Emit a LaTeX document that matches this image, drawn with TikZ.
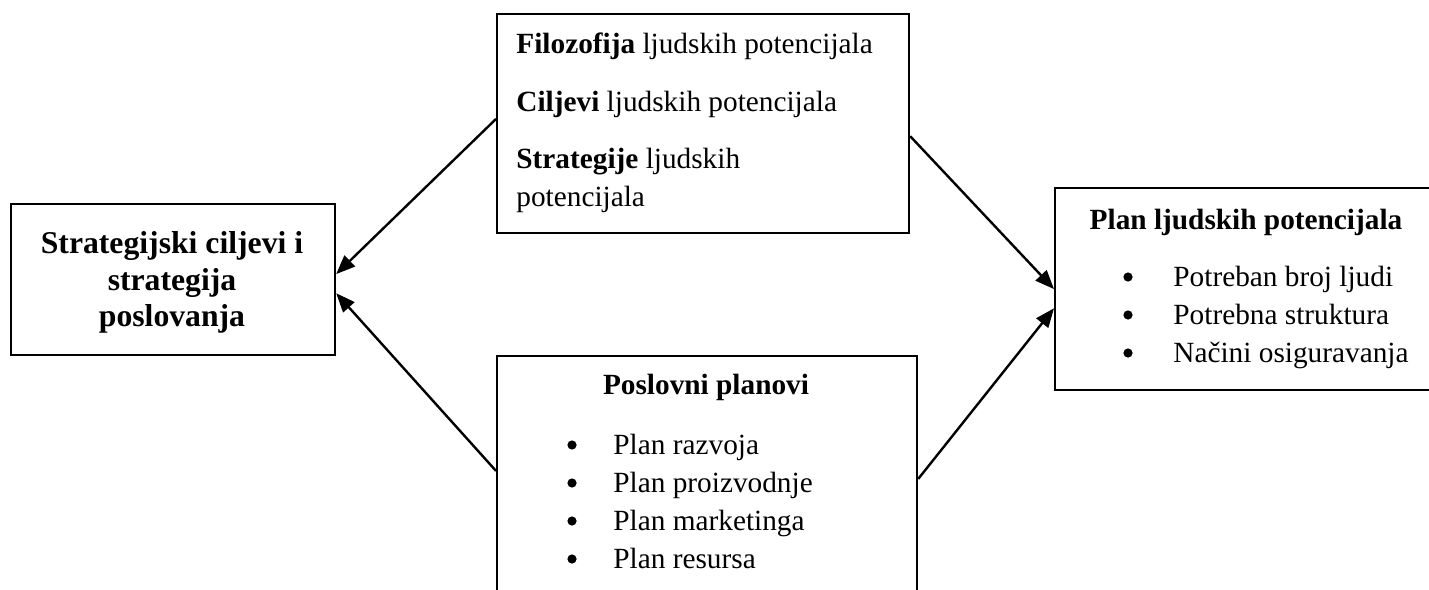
\documentclass[tikz,border=0pt]{standalone}
\usepackage{fontspec}
\setmainfont{Liberation Serif}
\usetikzlibrary{calc,arrows.meta}
\begin{document}
\begin{tikzpicture}[x=0.5pt,y=-0.5pt,
  box/.style={draw, line width=1.1pt, inner sep=0pt, anchor=north west},
  txt/.style={inner sep=0pt, anchor=base west, font=\fontsize{14.65}{19}\selectfont},
  ctxt/.style={txt, anchor=base},
  big/.style={inner sep=0pt, anchor=base, font=\fontsize{15.85}{19}\selectfont\bfseries},
  bul/.style={circle, fill, inner sep=0pt, minimum size=4.6pt},
  conn/.style={line width=1.2pt, -{Triangle[length=9.5pt,width=7.5pt]}}]
\useasboundingbox (0,0) rectangle (1429,589);
\clip (0,0) rectangle (1429,589);

% boxes
\node[box, minimum width=162pt, minimum height=75.5pt] (L) at (10,203) {};
\node[box, minimum width=206pt, minimum height=109.5pt] (T) at (496,13) {};
\node[box, minimum width=210pt, minimum height=142.5pt] (B) at (496,355) {};
\node[box, minimum width=203pt, minimum height=101pt] (R) at (1054,187) {};

% left box text
\node[big] (l1) at (172,253) {Strategijski ciljevi i};
\node[big] (l2) at (172,290) {strategija};
\node[big] (l3) at (172,326) {poslovanja};

% top box text
\node[txt] (t1) at (516,54) {\textbf{Filozofija} ljudskih potencijala};
\node[txt] (t2) at (516,111) {\textbf{Ciljevi} ljudskih potencijala};
\node[txt] (t3) at (516,168) {\textbf{Strategije} ljudskih};
\node[txt] (t4) at (516,206) {potencijala};

% bottom box text
\node[ctxt, font=\fontsize{14.65}{19}\selectfont\bfseries] (b0) at (706,394) {Poslovni planovi};
\node[bul] (bb1) at (572,445) {};
\node[txt] (b1) at (613,454) {Plan razvoja};
\node[bul] (bb2) at (572,483) {};
\node[txt] (b2) at (613,492) {Plan proizvodnje};
\node[bul] (bb3) at (572,521) {};
\node[txt] (b3) at (613,530) {Plan marketinga};
\node[bul] (bb4) at (572,559) {};
\node[txt] (b4) at (613,568) {Plan resursa};

% right box text
\node[ctxt, font=\fontsize{14.65}{19}\selectfont\bfseries] (r0) at (1246,229) {Plan ljudskih potencijala};
\node[bul] (rb1) at (1128,277) {};
\node[txt] (r1) at (1173,286) {Potreban broj ljudi};
\node[bul] (rb2) at (1128,315) {};
\node[txt] (r2) at (1173,324) {Potrebna struktura};
\node[bul] (rb3) at (1128,353) {};
\node[txt] (r3) at (1173,362) {Načini osiguravanja};

% connectors
\draw[conn] ($(T.north west)!0.479!(T.south west)$) -- ($(L.north east)!0.464!(L.south east)$);
\draw[conn] ($(B.north west)!0.4035!(B.south west)$) -- ($(L.north east)!0.589!(L.south east)$);
\draw[conn] ($(T.north east)!0.557!(T.south east)$) -- ($(R.north west)!0.5!(R.south west)$);
\draw[conn] ($(B.north east)!0.4316!(B.south east)$) -- ($(R.north west)!0.594!(R.south west)$);
\end{tikzpicture}
\end{document}
